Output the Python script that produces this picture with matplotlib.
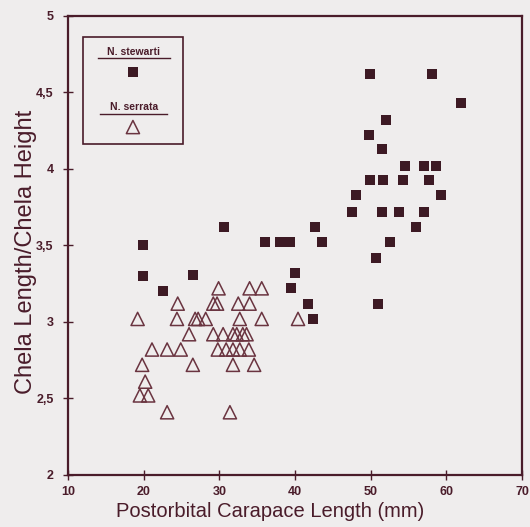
import matplotlib
matplotlib.use("Agg")
import matplotlib.pyplot as plt
from matplotlib.patches import Rectangle

# N. stewarti (filled squares)
stewarti_x = [19.9, 19.9, 22.5, 26.5, 30.6, 36.0, 38.0, 39.3, 42.6, 43.6,
              40.0, 39.5, 41.7, 42.4, 51.0, 50.7, 52.5, 56.0, 47.5, 51.5,
              53.7, 57.0, 48.0, 59.3, 49.9, 51.6, 54.3, 57.7, 54.6, 57.0,
              58.6, 51.5, 49.8, 52.0, 62.0, 49.9, 58.1]
stewarti_y = [3.50, 3.30, 3.20, 3.31, 3.62, 3.52, 3.52, 3.52, 3.62, 3.52,
              3.32, 3.22, 3.12, 3.02, 3.12, 3.42, 3.52, 3.62, 3.72, 3.72,
              3.72, 3.72, 3.83, 3.83, 3.93, 3.93, 3.93, 3.93, 4.02, 4.02,
              4.02, 4.13, 4.22, 4.32, 4.43, 4.62, 4.62]

# N. serrata (open triangles)
serrata_x = [29.9, 34.0, 35.6,
             24.5, 29.2, 29.7, 32.5, 34.0,
             19.2, 24.4, 26.8, 27.2, 28.2, 32.7, 35.6, 40.4,
             26.0, 29.2, 30.5, 31.8, 32.3, 33.1, 33.6,
             21.1, 23.1, 24.9, 29.8, 30.9, 31.8, 32.7, 33.9,
             19.8, 26.5, 31.8, 34.6,
             20.2,
             19.5, 20.6,
             23.1, 31.4]
serrata_y = [3.22, 3.22, 3.22,
             3.12, 3.12, 3.12, 3.12, 3.12,
             3.02, 3.02, 3.02, 3.02, 3.02, 3.02, 3.02, 3.02,
             2.92, 2.92, 2.92, 2.92, 2.92, 2.92, 2.92,
             2.82, 2.82, 2.82, 2.82, 2.82, 2.82, 2.82, 2.82,
             2.72, 2.72, 2.72, 2.72,
             2.61,
             2.52, 2.52,
             2.41, 2.41]

x_ticks = [10, 20, 30, 40, 50, 60, 70]
y_ticks = [2, 2.5, 3, 3.5, 4, 4.5, 5]
y_tick_labels = ["2", "2,5", "3", "3,5", "4", "4,5", "5"]

bg = "#efeded"
ink = "#4a1c2a"
sq_col = "#3d1a24"
tri_col = "#6a3440"

plt.rcParams['font.family'] = ['Liberation Sans', 'DejaVu Sans']

fig = plt.figure(figsize=(5.3, 5.27), dpi=100, facecolor=bg)
ax = fig.add_axes([0.1283, 0.0987, 0.8566, 0.871])
ax.set_facecolor(bg)

ax.scatter(stewarti_x, stewarti_y, marker='s', s=52, color=sq_col, linewidths=0, zorder=3)
ax.scatter(serrata_x, serrata_y, marker='^', s=90, facecolors='none',
           edgecolors=tri_col, linewidths=1.1, zorder=3)

ax.set_xlim(10, 70)
ax.set_ylim(2, 5)
ax.set_xticks(x_ticks)
ax.set_yticks(y_ticks)
ax.set_yticklabels(y_tick_labels)

for s in ax.spines.values():
    s.set_color(ink)
    s.set_linewidth(1.6)

ax.tick_params(axis='both', direction='inout', length=6.5, width=1.0, color=ink,
               labelcolor=ink, labelsize=9)
ax.tick_params(axis='x', pad=5)
ax.tick_params(axis='y', pad=7)
for lab in ax.get_xticklabels() + ax.get_yticklabels():
    lab.set_fontweight('bold')

# legend box drawn by hand
ax.add_patch(Rectangle((0.033, 0.721), 0.220, 0.233, transform=ax.transAxes,
                       fill=False, edgecolor=ink, linewidth=1.2, zorder=4))
ax.text(0.145, 0.922, "N. stewarti", transform=ax.transAxes, ha='center', va='center',
        fontsize=7.5, fontweight='bold', color=ink)
ax.plot([0.066, 0.225], [0.908, 0.908], transform=ax.transAxes, color=ink, lw=1.0)
ax.scatter([0.143], [0.878], transform=ax.transAxes, marker='s', s=52,
           color=sq_col, linewidths=0, zorder=5)
ax.text(0.145, 0.802, "N. serrata", transform=ax.transAxes, ha='center', va='center',
        fontsize=7.5, fontweight='bold', color=ink)
ax.plot([0.070, 0.218], [0.786, 0.786], transform=ax.transAxes, color=ink, lw=1.0)
ax.scatter([0.143], [0.758], transform=ax.transAxes, marker='^', s=90,
           facecolors='none', edgecolors=tri_col, linewidths=1.1, zorder=5)

fig.text(0.509, 0.0285, "Postorbital Carapace Length (mm)", ha='center', va='center',
         fontsize=14.5, color=ink)
fig.text(0.049, 0.522, "Chela Length/Chela Height", ha='center', va='center',
         rotation=90, fontsize=17, color=ink)

fig.savefig("out.png", dpi=100, facecolor=bg)
